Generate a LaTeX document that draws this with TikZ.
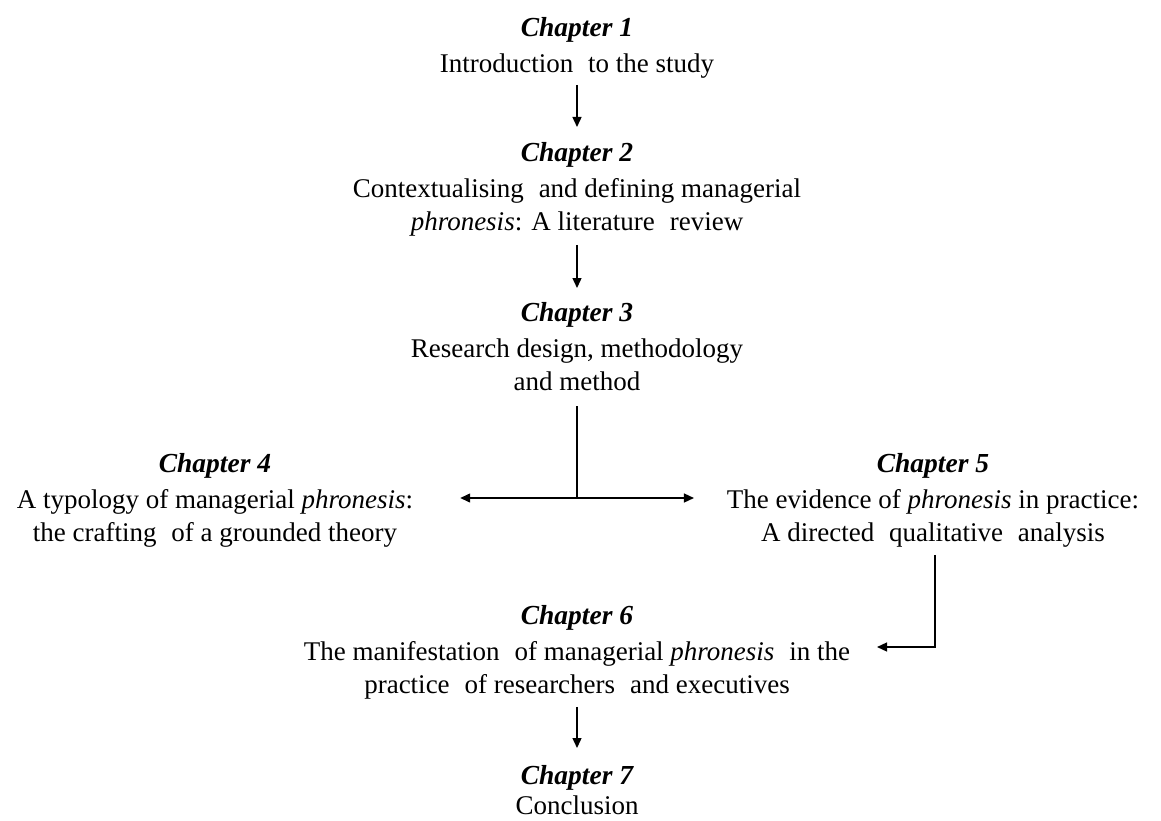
\documentclass[tikz,border=0pt]{standalone}
\usepackage{fontspec}
\setmainfont{Liberation Serif}
\usetikzlibrary{arrows.meta}

% wider word gap, as set in the original typesetting
\newcommand{\wgap}{\hspace{0.3em} }
\newcommand{\chaptitle}[1]{{\fontsize{27.5}{33}\selectfont\bfseries\itshape #1}}

\begin{document}
\begin{tikzpicture}[x=1pt,y=-1pt,
  chapblock/.style={align=center,anchor=north,inner sep=0pt,outer sep=0pt,
    font=\fontsize{27}{33}\selectfont},
  link/.style={line width=1.4pt},
  arr/.style={link,-{Triangle[length=10pt,width=9pt]}}]
\useasboundingbox (0,0) rectangle (1161,821);

% chapter blocks
\node[chapblock] (c1) at (577,17) {\chaptitle{Chapter 1}\\[3pt]
  Introduction\wgap to the study};
\node[chapblock] (c2) at (577,142) {\chaptitle{Chapter 2}\\[3pt]
  Contextualising\wgap and defining managerial\\
  \textit{phronesis}: A literature\wgap review};
\node[chapblock] (c3) at (577,302) {\chaptitle{Chapter 3}\\[3pt]
  Research design, methodology\\ and method};
\node[chapblock] (c4) at (215,453) {\chaptitle{Chapter 4}\\[3pt]
  A typology of managerial \textit{phronesis}:\\
  the crafting\wgap of a grounded theory};
\node[chapblock] (c5) at (933,453) {\chaptitle{Chapter 5}\\[3pt]
  The evidence of \textit{phronesis} in practice:\\
  A directed\wgap qualitative\wgap analysis};
\node[chapblock] (c6) at (577,605) {\chaptitle{Chapter 6}\\[3pt]
  The manifestation\wgap of managerial \textit{phronesis}\wgap in the\\
  practice\wgap of researchers\wgap and executives};
\node[chapblock] (c7) at (577,765) {\chaptitle{Chapter 7}\\[-3pt]
  Conclusion};

% junctions of the branching connectors
\coordinate (J) at (577,498);
\coordinate (K) at (935,647);

% straight flow
\draw[arr,shorten <=7pt,shorten >=15pt] (c1.south) -- (c1.south |- c2.north);
\draw[arr,shorten <=9pt,shorten >=14pt] (c2.south) -- (c2.south |- c3.north);
\draw[arr,shorten <=8pt,shorten >=17pt] (c6.south) -- (c6.south |- c7.north);

% branch from chapter 3 to chapters 4 and 5
\draw[link,shorten <=16pt] (c3.south) -- (J);
\draw[arr] (J) -- ([xshift=47pt]c4.east |- J);
\draw[arr] (J) -- ([xshift=-33pt]c5.west |- J);

% chapter 5 back to chapter 6
\draw[arr] ([yshift=-8pt]c5.south -| K) -- (K) -- ([xshift=27pt]c6.east |- K);
\end{tikzpicture}
\end{document}
